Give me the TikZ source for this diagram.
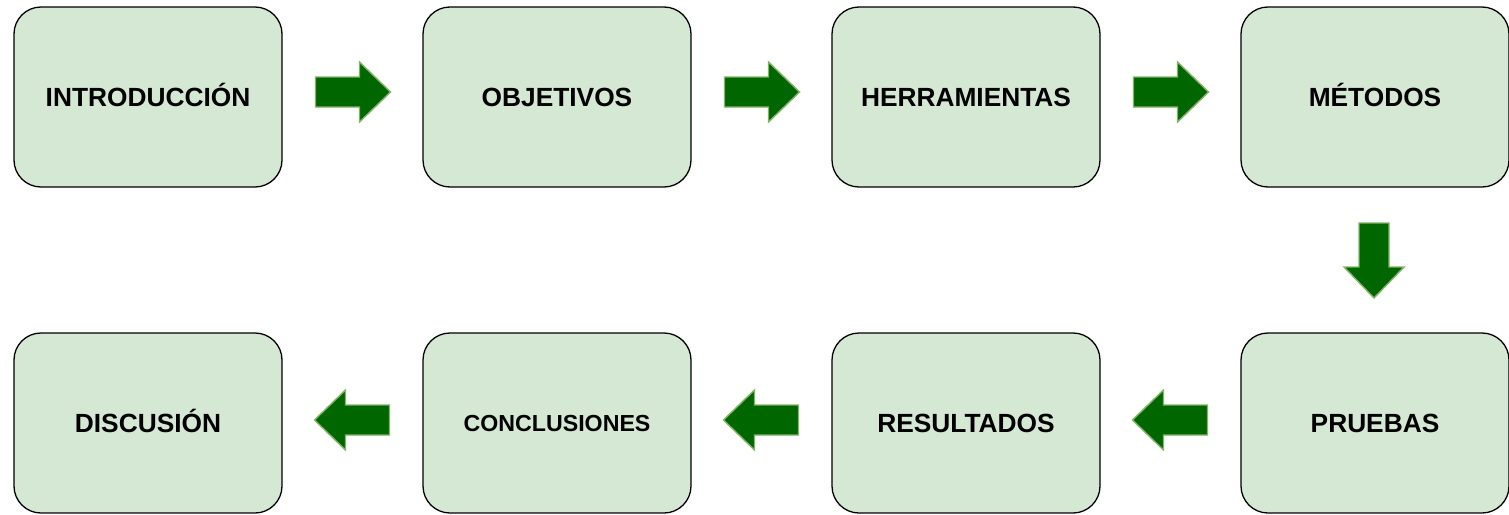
\documentclass[tikz,border=0pt]{standalone}
\usepackage{fontspec}
\setmainfont{Liberation Sans}
\usetikzlibrary{calc}
\definecolor{boxfill}{HTML}{D5E8D4}
\definecolor{arrfill}{HTML}{006600}
\definecolor{arrline}{HTML}{82B366}
\tikzset{
  stagebox/.style={draw=black, fill=boxfill, line width=1.3pt, rounded corners=27pt,
    minimum width=268pt, minimum height=180pt, inner sep=0pt,
    text height=18.8pt, text depth=0pt,
    font=\fontsize{26.3}{30}\selectfont\bfseries},
  bigarrow/.pic={\filldraw[fill=arrfill, draw=arrline, line width=1.4pt, line join=miter]
    (-37,-15) -- (7,-15) -- (7,-30) -- (38,0) -- (7,30) -- (7,15) -- (-37,15) -- cycle;}
}
\begin{document}
\begin{tikzpicture}[x=1pt, y=-1pt]
\useasboundingbox (0,0) rectangle (1509,514);
\node[stagebox] (intro) at (148,97) {INTRODUCCIÓN};
\node[stagebox] (obj) at (557,97) {OBJETIVOS};
\node[stagebox] (herr) at (966,97) {HERRAMIENTAS};
\node[stagebox] (met) at (1375,97) {MÉTODOS};
\node[stagebox] (pru) at (1375,423) {PRUEBAS};
\node[stagebox] (res) at (966,423) {RESULTADOS};
\node[stagebox, text height=16.6pt, font=\fontsize{23.2}{27}\selectfont\bfseries] (con) at (557,423) {CONCLUSIONES};
\node[stagebox] (dis) at (148,423) {DISCUSIÓN};
\pic at ($($(intro.east)!0.5!(obj.west)$)+(0,-5)$) {bigarrow};
\pic at ($($(obj.east)!0.5!(herr.west)$)+(0,-5)$) {bigarrow};
\pic at ($($(herr.east)!0.5!(met.west)$)+(0,-5)$) {bigarrow};
\pic[rotate=-90] at ($($(met.south)!0.5!(pru.north)$)+(-1,0)$) {bigarrow};
\pic[rotate=180] at ($($(pru.west)!0.5!(res.east)$)+(0,-3)$) {bigarrow};
\pic[rotate=180] at ($($(res.west)!0.5!(con.east)$)+(0,-3)$) {bigarrow};
\pic[rotate=180] at ($($(con.west)!0.5!(dis.east)$)+(0,-3)$) {bigarrow};
\end{tikzpicture}
\end{document}
